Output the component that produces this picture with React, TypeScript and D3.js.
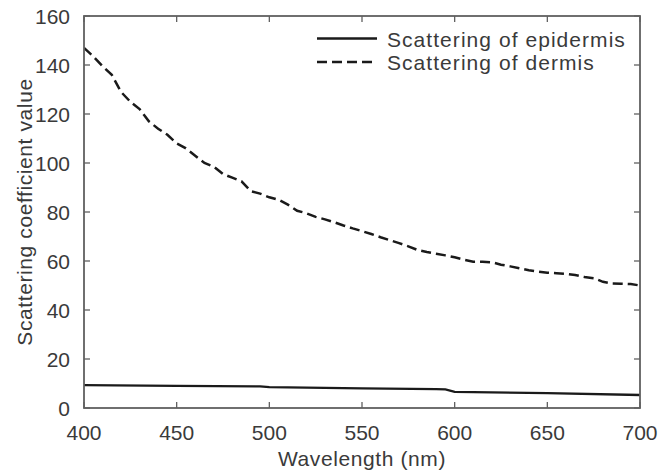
import React from "react";
import * as d3 from "d3";

const wavelengths = [
  400, 405, 410, 415, 420, 425, 430, 435, 440, 445, 450, 455, 460, 465, 470, 475, 480, 485, 490, 495,
  500, 505, 510, 515, 520, 525, 530, 535, 540, 545, 550, 555, 560, 565, 570, 575, 580, 585, 590, 595,
  600, 605, 610, 615, 620, 625, 630, 635, 640, 645, 650, 655, 660, 665, 670, 675, 680, 685, 690, 695, 700,
];
const dermis = [
  147, 143.5, 139.5, 136, 129, 125, 122, 117, 114, 111.5, 108, 106, 103, 100, 98.5, 95.5, 94, 92.5, 88.5, 87.5,
  86, 85, 83, 80.5, 79.5, 78, 77, 75.8, 74.5, 73.3, 72.2, 71, 69.7, 68.5, 67.3, 66, 64.5, 63.7, 63, 62.3,
  61.5, 60.5, 59.7, 59.7, 59.5, 58.5, 57.8, 57, 56.2, 55.7, 55.2, 55, 54.8, 54.3, 53.5, 53, 51.5, 50.8, 50.7, 50.6, 50,
];
const epiWavelengths = [400, 450, 495, 500, 550, 590, 595, 600, 650, 700];
const epidermis = [9.3, 9.0, 8.8, 8.5, 8.0, 7.7, 7.6, 6.6, 6.1, 5.3];

const xTicks = [400, 450, 500, 550, 600, 650, 700];
const yTicks = [0, 20, 40, 60, 80, 100, 120, 140, 160];
const seriesNames = ["Scattering of epidermis", "Scattering of dermis"];

export default function App() {
  const W = 658, H = 476;
  const L = 84, R = 640, T = 16, B = 408;
  const x = d3.scaleLinear().domain([400, 700]).range([L, R]);
  const y = d3.scaleLinear().domain([0, 160]).range([B, T]);
  const line = d3.line<[number, number]>().x((d) => x(d[0])).y((d) => y(d[1]));
  const dermisPath = line(wavelengths.map((w, i) => [w, dermis[i]]))!;
  const epiPath = line(epiWavelengths.map((w, i) => [w, epidermis[i]]))!;
  const font = "'Liberation Sans', Arial, sans-serif";
  const txt = "#3a3a3a";
  const axisC = "#606060";
  const tl = 6;
  return (
    <svg width={W} height={H} style={{ position: "absolute", left: 0, top: 0, background: "#fff" }} fontFamily={font}>
      <defs>
        <clipPath id="plot">
          <rect x={L} y={T} width={R - L} height={B - T} />
        </clipPath>
      </defs>
      {xTicks.map((t) => (
        <g key={"x" + t}>
          <line x1={x(t)} x2={x(t)} y1={B} y2={B - tl} stroke={axisC} strokeWidth={1.3} />
          <line x1={x(t)} x2={x(t)} y1={T} y2={T + tl} stroke={axisC} strokeWidth={1.3} />
          <text x={x(t)} y={440} textAnchor="middle" fontSize={21} fill={txt}>{t}</text>
        </g>
      ))}
      {yTicks.map((t) => (
        <g key={"y" + t}>
          <line x1={L} x2={L + tl} y1={y(t)} y2={y(t)} stroke={axisC} strokeWidth={1.3} />
          <line x1={R} x2={R - tl} y1={y(t)} y2={y(t)} stroke={axisC} strokeWidth={1.3} />
          <text x={70} y={y(t)} dy="0.36em" textAnchor="end" fontSize={21} fill={txt}>{t}</text>
        </g>
      ))}
      <g clipPath="url(#plot)">
        <path d={epiPath} fill="none" stroke="#1a1a1a" strokeWidth={2.3} />
        <path d={dermisPath} fill="none" stroke="#1a1a1a" strokeWidth={2.5} strokeDasharray="10,5" />
      </g>
      <rect x={L} y={T} width={R - L} height={B - T} fill="none" stroke={axisC} strokeWidth={1.8} />
      <line x1={317} x2={377} y1={38.5} y2={38.5} stroke="#1a1a1a" strokeWidth={2.3} />
      <line x1={317} x2={377} y1={62} y2={62} stroke="#1a1a1a" strokeWidth={2.5} strokeDasharray="10,5" />
      <text x={387} y={46.5} fontSize={21} fill={txt} letterSpacing={1.05}>{seriesNames[0]}</text>
      <text x={387} y={69.5} fontSize={21} fill={txt} letterSpacing={1.05}>{seriesNames[1]}</text>
      <text x={(L + R) / 2} y={466} textAnchor="middle" fontSize={21} fill={txt} letterSpacing={0.6}>Wavelength (nm)</text>
      <text transform={`translate(32,${(T + B) / 2}) rotate(-90)`} textAnchor="middle" fontSize={21} fill={txt} letterSpacing={0.6}>Scattering coefficient value</text>
    </svg>
  );
}
